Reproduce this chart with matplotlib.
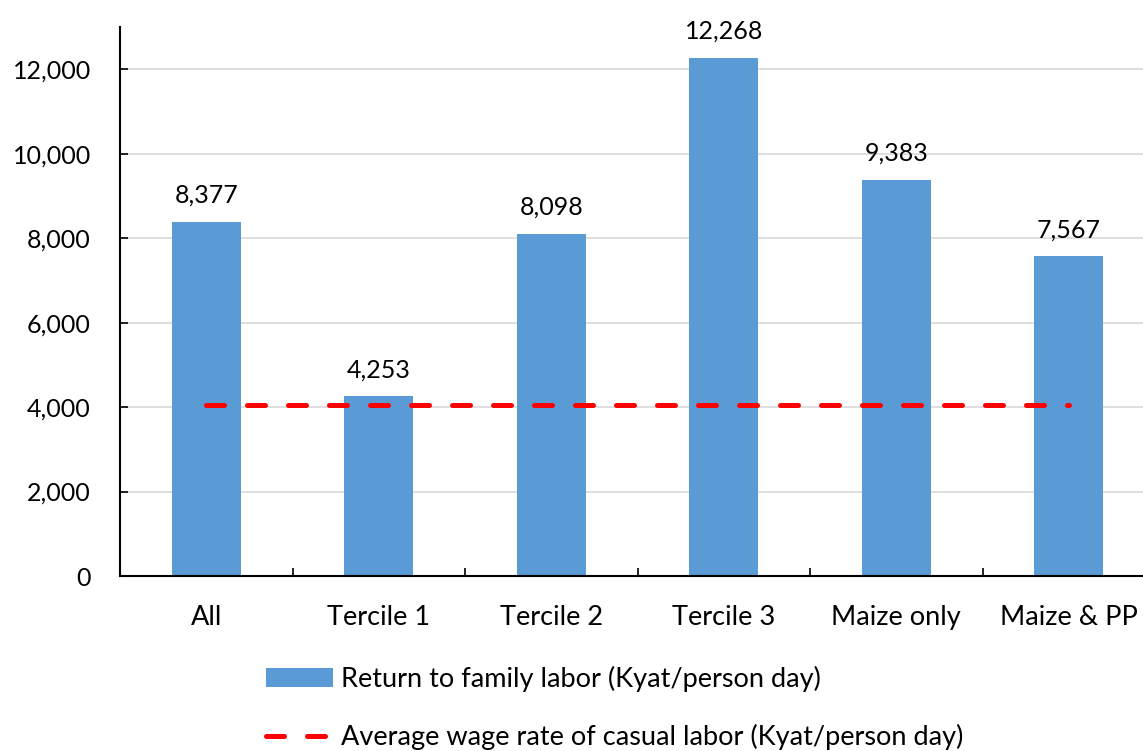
import numpy as np
import matplotlib.pyplot as plt
from matplotlib.ticker import FuncFormatter

plt.rcParams['font.family'] = ['Lato', 'DejaVu Sans']

categories = ['All', 'Tercile 1', 'Tercile 2', 'Tercile 3', 'Maize only', 'Maize & PP']
returns = [8377, 4253, 8098, 12268, 9383, 7567]
wage_rate = [4050, 4050, 4050, 4050, 4050, 4050]

blue = '#5B9BD5'
x = np.arange(len(categories))

fig = plt.figure(figsize=(11.43, 7.51), dpi=100)
ax = fig.add_axes([120/1143, 175/751, 1.0 - 120/1143, (576-27)/751])

bars = ax.bar(x, returns, width=0.4, color=blue, zorder=2,
              label='Return to family labor (Kyat/person day)')
ln, = ax.plot(x, wage_rate, color='#FF0000', lw=3.6, zorder=3,
              solid_capstyle='round', dash_capstyle='round',
              label='Average wage rate of casual labor (Kyat/person day)')
ln.set_dashes((3.6, 4.6))

for xi, v in zip(x, returns):
    ax.annotate('{:,}'.format(v), (xi, v), xytext=(0, 11), textcoords='offset points',
                ha='center', va='bottom', fontsize=18)

ax.set_xlim(-0.5, 5.43)
ax.set_ylim(0, 13000)
ax.set_yticks(np.arange(0, 13000, 2000))
ax.yaxis.set_major_formatter(FuncFormatter(lambda v, p: '{:,.0f}'.format(v)))
ax.grid(axis='y', color='#D9D9D9', lw=1.2, zorder=0)
ax.set_axisbelow(True)

ax.set_xticks(x)
ax.set_xticklabels(categories)
ax.set_xticks(np.arange(0.5, 5.0, 1), minor=True)
ax.tick_params(axis='x', which='major', length=0, pad=21, labelsize=19.5)
ax.tick_params(axis='x', which='minor', length=6, width=1.2, direction='in')
ax.tick_params(axis='y', length=6, width=1.2, direction='in', pad=21, labelsize=18)

for s in ['top', 'right']:
    ax.spines[s].set_visible(False)
for s in ['left', 'bottom']:
    ax.spines[s].set_linewidth(1.5)

fig.legend([bars, ln], [bars.get_label(), ln.get_label()],
           loc='upper left', bbox_to_anchor=(252/1143, 1 - 652/751), frameon=False,
           fontsize=19.5, handlelength=2.5, handleheight=0.7, labelspacing=1.2,
           handletextpad=0.3, borderpad=0)

fig.savefig('out.png', dpi=100)
